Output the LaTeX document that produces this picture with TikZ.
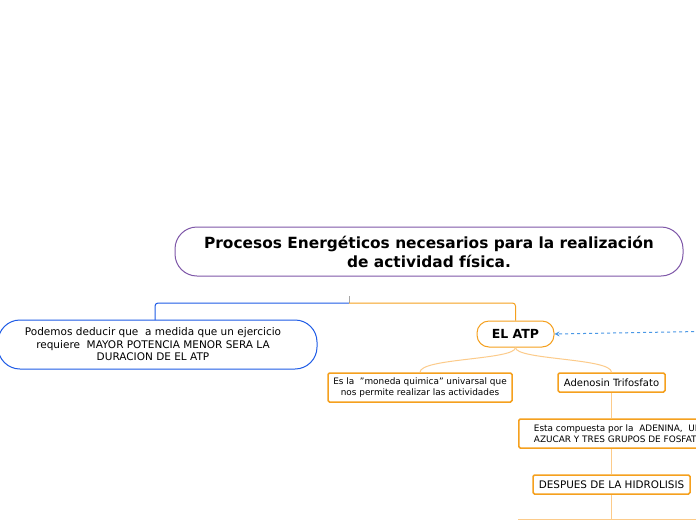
\documentclass[tikz,border=0pt]{standalone}
\usepackage{fontspec}
\setmainfont{DejaVu Sans}
\usetikzlibrary{arrows.meta}
\definecolor{purp}{HTML}{7E57A8}
\definecolor{blu}{HTML}{1E5BE6}
\definecolor{org}{HTML}{F5A01E}
\definecolor{lorg}{HTML}{FCCB8A}
\definecolor{dblu}{HTML}{4A98E6}
\tikzset{
  titlebox/.style={draw=purp, line width=1pt, rounded corners=22pt, minimum width=508pt, minimum height=49pt, align=center, font=\fontsize{15.4}{19}\selectfont\bfseries, inner sep=0pt},
  lefttext/.style={align=center, font=\fontsize{10.5}{12.5}\selectfont, inner sep=0pt},
  leftframe/.style={draw=blu, line width=1pt, rounded corners=22pt},
  atpbox/.style={draw=org, line width=1pt, rounded corners=12pt, minimum width=77pt, minimum height=26pt, font=\fontsize{12.5}{15}\selectfont\bfseries, inner sep=0pt},
  subbox/.style={draw=org, line width=1.5pt, rounded corners=1.5pt, align=center, inner sep=0pt},
  thin/.style={draw=lorg, line width=1pt},
}
\begin{document}
\begin{tikzpicture}[x=1pt,y=-1pt]
\useasboundingbox (0,0) rectangle (696,520);
\fill[white] (0,0) rectangle (696,520);
% nodes
\node[titlebox] (title) at (429,251.5) {Procesos Energéticos necesarios para la realización\\de actividad física.};
\node[lefttext] (left) at (153,344.5) {Podemos deducir que\ \ a medida que un ejercicio\\requiere\ \ MAYOR POTENCIA MENOR SERA LA\\DURACION DE EL ATP};
\draw[leftframe] (-2,320) rectangle (317,369);
\node[atpbox] (atp) at (515.5,334) {EL ATP};
\node[subbox, minimum width=184pt, minimum height=29pt, font=\fontsize{8.9}{11}\selectfont] (moneda) at (420,387.5) {Es la\ \ \char"0022moneda quimica\char"0022{} univarsal que\\nos permite realizar las actividades};
\node[subbox, minimum width=107pt, minimum height=19pt, font=\fontsize{10}{12}\selectfont] (adeno) at (611.5,382.5) {Adenosin Trifosfato};
\node[subbox, minimum width=200pt, minimum height=29pt, font=\fontsize{8.9}{11}\selectfont, align=left, anchor=west, inner xsep=6pt] (comp) at (518,433.5) {Esta compuesta por la\ \ ADENINA,\ \ UN\\AZUCAR Y TRES GRUPOS DE FOSFATO};
\node[subbox, minimum width=157pt, minimum height=19pt, font=\fontsize{10.4}{12}\selectfont] (desp) at (611.5,484.5) {DESPUES DE LA HIDROLISIS};
% coordinates
\coordinate (tick) at (349,296);
\coordinate (fork) at (349,303);
\coordinate (leftTop) at (155,320);
\coordinate (farR) at (700,331.5);
\coordinate (botL) at (518,519);
\coordinate (botR) at (700,519);
\coordinate (botM) at (611.5,519);
% connectors
\draw[draw=gray!70, line width=1pt] (tick) -- (fork);
\draw[blu, line width=1pt, rounded corners=3pt] (fork) -| (leftTop);
\draw[org, line width=1pt, rounded corners=3pt] (fork) -| (atp.north);
\draw[dblu, line width=1pt, dashed, dash pattern=on 3pt off 3pt, -{Stealth[length=5pt,width=5pt]}] (farR) -- (atp.east);
\draw[thin] (atp.south) .. controls (515.5,360) and (420,358) .. (moneda.north);
\draw[thin] (atp.south) .. controls (515.5,360) and (611.5,358) .. (adeno.north);
\draw[thin] (adeno.south) -- (comp.north -| adeno.south);
\draw[thin] (comp.south -| adeno.south) -- (desp.north);
\draw[thin] (desp.south) -- (botM);
\draw[thin] (botL) -- (botR);
\end{tikzpicture}
\end{document}
